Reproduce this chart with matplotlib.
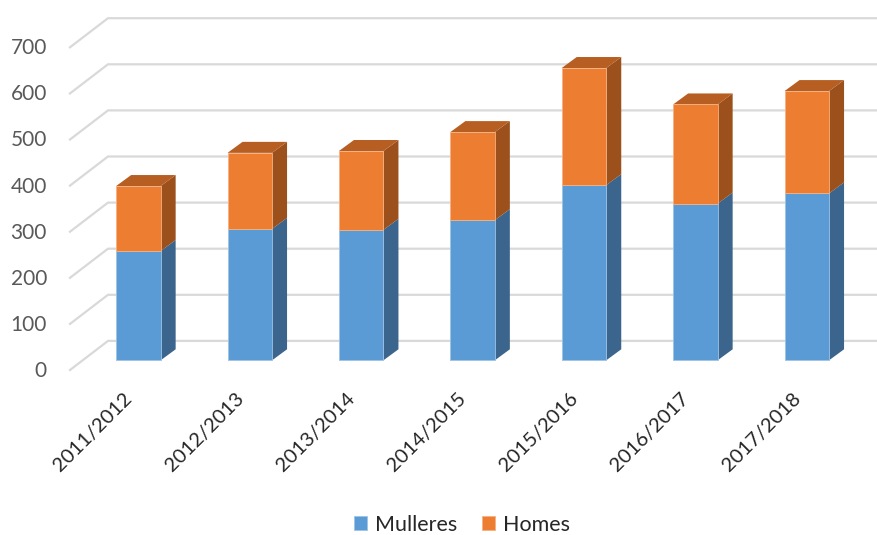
# Stacked columns with a drawn-on 3D look (Mulleres / Homes per school year)
import matplotlib
matplotlib.use('Agg')
import matplotlib.pyplot as plt
from matplotlib.patches import Polygon
import numpy as np

plt.rcParams['font.family'] = ['Lato', 'DejaVu Sans']

# Data
years = ['2011/2012', '2012/2013', '2013/2014', '2014/2015',
         '2015/2016', '2016/2017', '2017/2018']
mulleres = [237, 285, 283, 304, 380, 340, 362]
homes = [141, 165, 171, 191, 254, 215, 222]
y_ticks = [0, 100, 200, 300, 400, 500, 600, 700]

# Pixel layout of the original
W, H = 877, 535
px_per_val = 0.461
px_per_cat = 111.4
zero_y = 360.3
first_x = 138.4

fig = plt.figure(figsize=(W / 100, H / 100), dpi=100)
ax = fig.add_axes([0, 0, 1, 1])
ax.set_xlim(-first_x / px_per_cat, (W - first_x) / px_per_cat)
ax.set_ylim(-(H - zero_y) / px_per_val, zero_y / px_per_val)
ax.axis('off')

def dx(px):
    return px / px_per_cat

def dy(px):
    return px / px_per_val

x = np.arange(len(years))
m = np.array(mulleres)
h = np.array(homes)
w = dx(44.5)
depth_x, depth_y = dx(15), dy(11)

# back wall gridlines and the slanted floor/side lines
wall_x0 = dx(108 - first_x)
side_x0 = dx(70 - first_x)
wall_off = dy(19.4)
side_off = dy(-9.7)
for t in y_ticks:
    ax.plot([side_x0, wall_x0, dx(W - first_x)],
            [t + side_off, t + wall_off, t + wall_off],
            color='#d9d9d9', lw=1.6, solid_joinstyle='miter', zorder=1)
    ax.text(dx(47 - first_x), t + side_off - dy(1), str(t), ha='right', va='center',
            fontsize=15, color='#595959')

# front faces
b1 = ax.bar(x, m, w, color='#5b9bd5', edgecolor='#9dc3e6', linewidth=0.6,
            label='Mulleres', zorder=3)
b2 = ax.bar(x, h, w, bottom=m, color='#ed7d31', edgecolor='#f4b183', linewidth=0.6,
            label='Homes', zorder=3)

# side and top faces
for xi, mi, hi in zip(x, m, h):
    r = xi + w / 2
    l = xi - w / 2
    top = mi + hi
    ax.add_patch(Polygon([(r, 0), (r + depth_x, depth_y), (r + depth_x, mi + depth_y), (r, mi)],
                         closed=True, fc='#3b658c', ec='none', zorder=2))
    ax.add_patch(Polygon([(r, mi), (r + depth_x, mi + depth_y), (r + depth_x, top + depth_y), (r, top)],
                         closed=True, fc='#9c501c', ec='none', zorder=2))
    ax.add_patch(Polygon([(l, top), (l + depth_x, top + depth_y), (r + depth_x, top + depth_y), (r, top)],
                         closed=True, fc='#b75e22', ec='none', zorder=2))

# category labels, rotated
for xi, lab in zip(x, years):
    ax.text(xi - dx(9), dy(-35), lab, rotation=45, rotation_mode='anchor',
            ha='right', va='center', fontsize=14.5, color='#262626')

ax.legend(handles=[b1, b2], loc='center', ncol=2, frameon=False, fontsize=15.5,
          bbox_to_anchor=(462 / W, 1 - 525 / H), bbox_transform=fig.transFigure,
          handlelength=0.62, handleheight=0.62, handletextpad=0.36, columnspacing=1.15,
          labelcolor='#262626')

fig.savefig('out.png', dpi=100)
